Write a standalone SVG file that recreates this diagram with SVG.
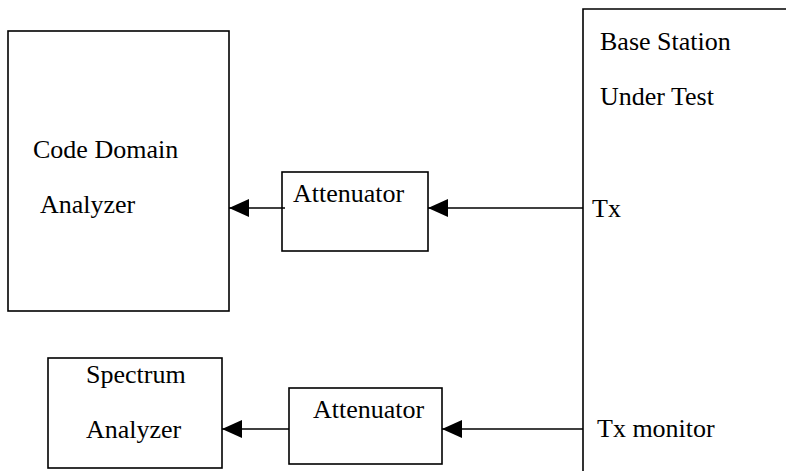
<svg xmlns="http://www.w3.org/2000/svg" width="786" height="471" viewBox="0 0 786 471">
<style>
.box{fill:none;stroke:#000;stroke-width:1.6}
.lbl{font-family:"Liberation Serif","Times New Roman",serif;font-size:26px;fill:#000}
.conn{stroke:#000;stroke-width:1.6;fill:none;marker-end:url(#ah)}
</style>
<defs>
<marker id="ah" markerUnits="userSpaceOnUse" markerWidth="20" markerHeight="18" refX="20" refY="9" orient="auto">
<path d="M0,0 L20,9 L0,18 Z" fill="#000"/>
</marker>
</defs>
<rect width="786" height="471" fill="#fff"/>
<g id="code-domain-analyzer">
<rect class="box" x="8" y="31" width="221" height="280"/>
<text class="lbl" x="33" y="158">Code Domain</text>
<text class="lbl" x="40" y="213">Analyzer</text>
</g>
<g id="attenuator-1">
<rect class="box" x="282" y="172" width="146" height="79"/>
<text class="lbl" x="293" y="202">Attenuator</text>
</g>
<g id="spectrum-analyzer">
<rect class="box" x="48" y="358" width="174" height="110"/>
<text class="lbl" x="86" y="383">Spectrum</text>
<text class="lbl" x="86" y="438">Analyzer</text>
</g>
<g id="attenuator-2">
<rect class="box" x="289" y="388" width="153" height="76"/>
<text class="lbl" x="313" y="418">Attenuator</text>
</g>
<g id="base-station">
<path class="box" d="M790,9 L583,9 L583,475"/>
<text class="lbl" x="600" y="50">Base Station</text>
<text class="lbl" x="600" y="105">Under Test</text>
<text class="lbl" x="592" y="217">Tx</text>
<text class="lbl" x="597" y="437">Tx monitor</text>
</g>
<g id="connectors">
<line class="conn" x1="583" y1="208" x2="428" y2="208"/>
<line class="conn" x1="285" y1="208" x2="229" y2="208"/>
<line class="conn" x1="583" y1="429" x2="442" y2="429"/>
<line class="conn" x1="289" y1="429" x2="222" y2="429"/>
</g>
</svg>
